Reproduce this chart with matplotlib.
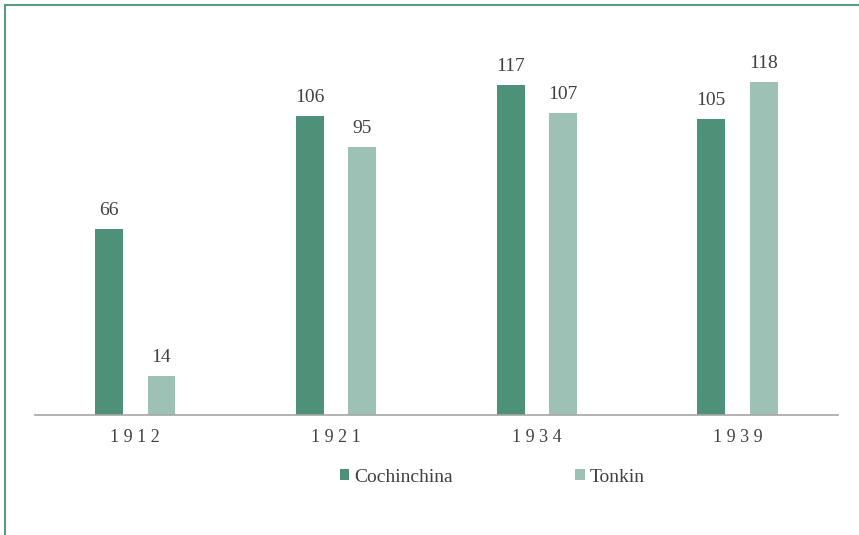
import matplotlib.pyplot as plt
import numpy as np
from matplotlib.patches import Rectangle

years = ["1912", "1921", "1934", "1939"]
cochinchina = [66, 106, 117, 105]
tonkin = [14, 95, 107, 118]

dark = "#4e9179"
light = "#9dc2b5"
text_col = "#404040"

plt.rcParams["font.family"] = ["Liberation Serif", "DejaVu Serif"]

fig = plt.figure(figsize=(8.59, 5.35), dpi=100)
ax = fig.add_axes([35 / 859, 120 / 535, 803 / 859, 395 / 535])

x = np.arange(len(years))
w = 0.139
b1 = ax.bar(x - 0.131, cochinchina, w, color=dark, label="Cochinchina")
b2 = ax.bar(x + 0.13, tonkin, w, color=light, label="Tonkin")

for bars, vals in ((b1, cochinchina), (b2, tonkin)):
    for bar, v in zip(bars, vals):
        ax.annotate(str(v), (bar.get_x() + bar.get_width() / 2, v),
                    xytext=(0, 7), textcoords="offset points",
                    ha="center", va="bottom", fontsize=14, color=text_col)

ax.set_xlim(-0.5, 3.5)
ax.set_ylim(0, 140)
ax.set_xticks(x)
ax.set_xticklabels([" ".join(y) for y in years], fontsize=13, color=text_col)
ax.tick_params(axis="x", length=0, pad=10)
ax.set_yticks([])
for s in ("top", "right", "left"):
    ax.spines[s].set_visible(False)
ax.spines["bottom"].set_color("#a6a6a6")
ax.spines["bottom"].set_linewidth(1.2)

fig.legend(handles=[b1, b2], loc="center", bbox_to_anchor=(0.573, 1 - 477 / 535),
           ncol=2, frameon=False, fontsize=14, handlelength=0.5, handleheight=0.5,
           handletextpad=0.25, columnspacing=6.3, labelcolor=text_col)

# green frame around the chart area
fig.patches.append(Rectangle((5 / 859, -0.05), 1.2, 1.05 - 5 / 535,
                             transform=fig.transFigure, fill=False,
                             edgecolor="#5a9a82", linewidth=1.5))

fig.savefig("out.png", dpi=100)
